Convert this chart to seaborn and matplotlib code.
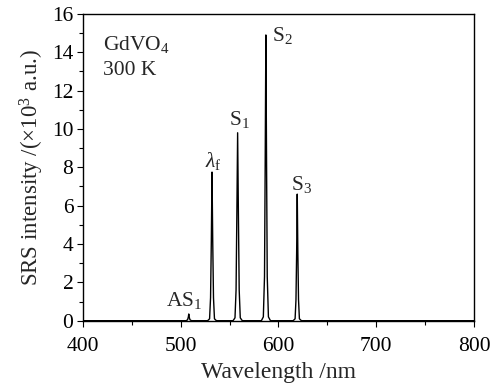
import matplotlib
matplotlib.use("Agg")
import matplotlib.pyplot as plt
import pandas as pd
import seaborn as sns
from matplotlib.ticker import MultipleLocator

# Spectrum (wavelength in nm, intensity in 10^3 a.u.)
wavelength = [
    400, 450, 500,
    505.5, 507.0, 507.8, 508.2, 508.6, 509.4, 511.0,
    527.5, 529.5, 530.5, 531.3, 532.0, 532.7, 533.5, 534.5, 536.5,
    553.5, 555.5, 556.6, 557.4, 558.2, 559.0, 559.8, 560.9, 563.0,
    582.5, 584.5, 585.7, 586.4, 587.1, 587.8, 588.5, 589.7, 591.8,
    615.0, 617.0, 617.9, 618.6, 619.2, 619.8, 620.5, 621.4, 623.5,
    650, 700, 750, 800,
]
intensity = [
    0.0, 0.0, 0.0,
    0.0, 0.05, 0.2, 0.35, 0.2, 0.05, 0.0,
    0.0, 0.1, 1.2, 4.2, 7.75, 4.2, 1.2, 0.1, 0.0,
    0.0, 0.15, 1.6, 5.5, 9.8, 5.5, 1.6, 0.15, 0.0,
    0.0, 0.2, 2.3, 8.2, 14.9, 8.2, 2.3, 0.2, 0.0,
    0.0, 0.1, 1.1, 3.6, 6.6, 3.6, 1.1, 0.1, 0.0,
    0.0, 0.0, 0.0, 0.0,
]

peak_names = ["AS$_1$", "$\\lambda_\\mathrm{f}$", "S$_1$", "S$_2$", "S$_3$"]
peak_label_x = [503, 533, 560.5, 593, 624]
peak_label_y = [0.75, 8.0, 10.2, 14.6, 6.8]
peak_label_ha = ["center", "center", "center", "left", "center"]

sns.set_theme(style="ticks")
plt.rcParams["font.family"] = ["Liberation Serif", "DejaVu Serif"]
plt.rcParams["mathtext.fontset"] = "custom"
plt.rcParams["mathtext.rm"] = "Liberation Serif"
plt.rcParams["mathtext.it"] = "Liberation Serif:italic"
plt.rcParams["mathtext.cal"] = "Liberation Serif"

df = pd.DataFrame({"wavelength": wavelength, "intensity": intensity})

fig = plt.figure(figsize=(4.98, 3.85), dpi=100)
ax = fig.add_axes([0.1667, 0.167, 0.785, 0.797])

sns.lineplot(data=df, x="wavelength", y="intensity", ax=ax, color="black",
             linewidth=1.0, estimator=None, sort=False)

ax.set_xlim(400, 800)
ax.set_ylim(0, 16)
ax.xaxis.set_major_locator(MultipleLocator(100))
ax.xaxis.set_minor_locator(MultipleLocator(50))
ax.yaxis.set_major_locator(MultipleLocator(2))
ax.yaxis.set_minor_locator(MultipleLocator(1))
ax.tick_params(which="both", direction="out", labelsize=15.5, colors="black", width=0.8)
ax.tick_params(which="major", length=4)
ax.tick_params(which="minor", length=3)
ax.tick_params(axis="x", which="major", pad=8)
ax.tick_params(axis="y", which="major", pad=3)
for s in ax.spines.values():
    s.set_linewidth(1.0)
    s.set_color("black")

ax.set_xlabel("Wavelength /nm", fontsize=17, labelpad=4)
ax.set_ylabel("SRS intensity /($\\times$10$^3$ a.u.)", fontsize=16.5, labelpad=4)

ax.text(0.05, 0.935, "GdVO$_4$", transform=ax.transAxes, fontsize=15.5, va="top")
ax.text(0.05, 0.845, "300 K", transform=ax.transAxes, fontsize=15.5, va="top")

for name, lx, ly, ha in zip(peak_names, peak_label_x, peak_label_y, peak_label_ha):
    ax.text(lx, ly, name, fontsize=15.5, ha=ha, va="baseline")

fig.savefig("out.png", dpi=100)
